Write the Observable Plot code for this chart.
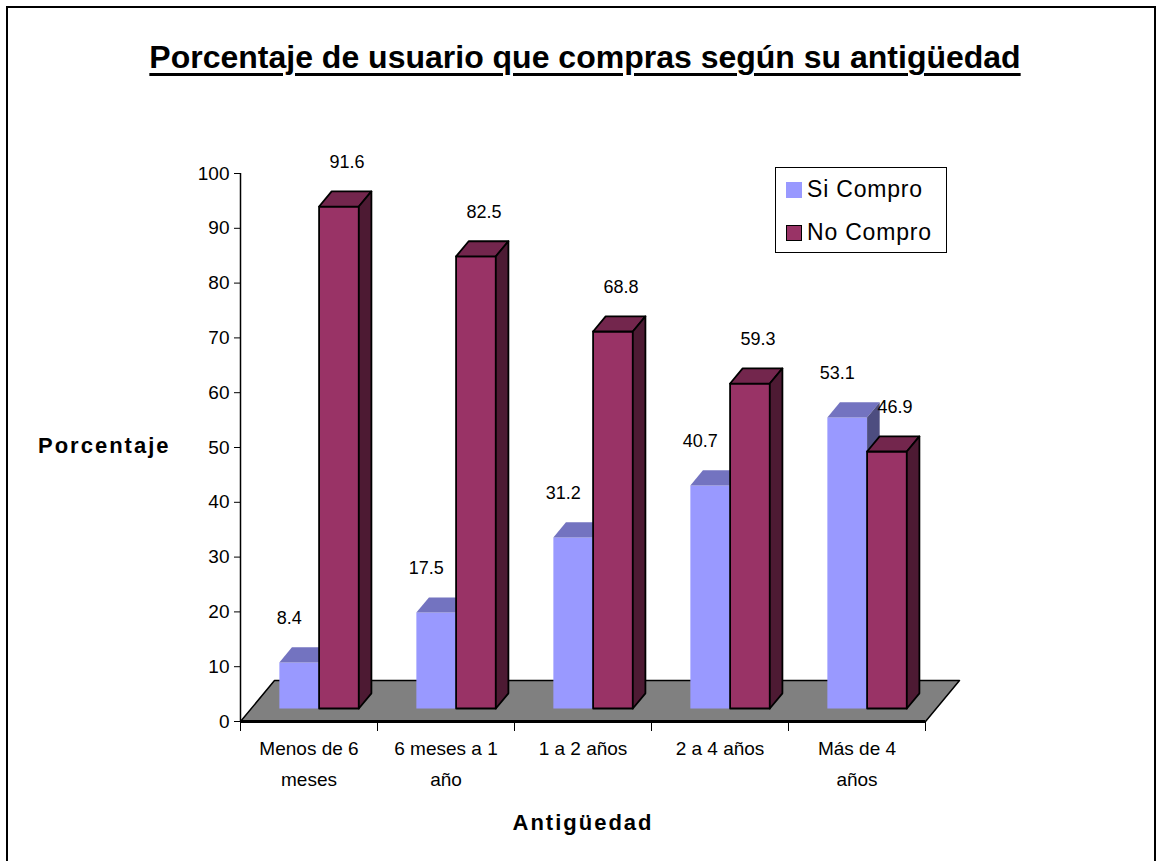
<!DOCTYPE html>
<html>
<head>
<meta charset="utf-8">
<script src="https://cdn.jsdelivr.net/npm/d3@7"></script>
<script src="https://cdn.jsdelivr.net/npm/@observablehq/plot@0.6"></script>
<style>
  html, body { margin: 0; padding: 0; background: #fff; }
  body { font-family: "Liberation Sans", Arial, sans-serif; color: #000; }
  #wrap { position: relative; width: 1158px; height: 861px; overflow: hidden; background: #fff; }
  #border { position: absolute; left: 6px; top: 6px; width: 1150px; height: 900px; border: 2px solid #000; box-sizing: border-box; }
  #chart { position: absolute; left: 0; top: 0; }
  #title { position: absolute; left: 0; width: 1170px; top: 41px; text-align: center; font-weight: bold; font-size: 32px; line-height: 32px;
           text-decoration: underline; text-decoration-thickness: 3px; text-underline-offset: 5px; }
  .axtitle { position: absolute; font-weight: bold; font-size: 22px; line-height: 22px; letter-spacing: 2px; white-space: nowrap; }
  #ytitle { left: 38px; top: 435px; }
  #xtitle { left: 0; width: 1166px; text-align: center; top: 812px; }
  #legend { position: absolute; left: 775px; top: 167px; width: 172px; height: 86px; border: 1.5px solid #000; box-sizing: border-box; background: #fff; }
  .item { position: absolute; left: 10px; font-size: 23px; line-height: 23px; letter-spacing: 0.8px; white-space: nowrap; }
  .sw { display: inline-block; width: 16px; height: 16px; margin-right: 5px; vertical-align: -1px; box-sizing: border-box; }
</style>
</head>
<body>
<div id="wrap">
  <div id="border"></div>
  <div id="chart"></div>
  <div id="title">Porcentaje de usuario que compras según su antigüedad</div>
  <div id="ytitle" class="axtitle">Porcentaje</div>
  <div id="xtitle" class="axtitle">Antigüedad</div>
  <div id="legend"></div>
</div>
<script>
// ---- data ----
const categories = ["Menos de 6 meses", "6 meses a 1 año", "1 a 2 años", "2 a 4 años", "Más de 4 años"];
const tickLabels = ["Menos de 6\nmeses", "6 meses a 1\naño", "1 a 2 años", "2 a 4 años", "Más de 4\naños"];
const series = ["Si Compro", "No Compro"];
const siCompro = [8.4, 17.5, 31.2, 40.7, 53.1];
const noCompro = [91.6, 82.5, 68.8, 59.3, 46.9];
const yTicks = [0, 10, 20, 30, 40, 50, 60, 70, 80, 90, 100];

// ---- layout / style ----
const W = 1158, H = 861, mL = 240, mR = 233, mT = 173, mB = 140;
const pxCat = (W - mL - mR) / categories.length;   // px per category
const pxVal = (H - mT - mB) / 100;                 // px per percent
const floorDepth = { x: 34 / pxCat, y: 41 / pxVal };
const f0 = 0.317, fb = 0.37;
const barOffset = 0.205, barW = 0.29;
const colors = {
  "Si Compro": { front: "#9999ff", top: "#7373c0", side: "#4d4d80", stroke: "none", labelDx: -10 },
  "No Compro": { front: "#993366", top: "#73264d", side: "#4d1a33", stroke: "#000000", labelDx: 8 }
};

const values = [siCompro, noCompro];
const polys = [];
const labels = [];
let id = 0;
categories.forEach((c, i) => {
  values.forEach((vals, s) => {
    const v = vals[i];
    const col = colors[series[s]];
    const x0 = i + barOffset + s * barW + f0 * floorDepth.x, x1 = x0 + barW;
    const b = f0 * floorDepth.y, t = b + v;
    const ddx = fb * floorDepth.x, ddy = fb * floorDepth.y;
    const add = (pts, fill) => {
      const k = id++;
      pts.concat([pts[0]]).forEach(([x, y]) => polys.push({ k, x, y, fill, stroke: col.stroke }));
    };
    add([[x0, b], [x1, b], [x1, t], [x0, t]], col.front);
    add([[x0, t], [x1, t], [x1 + ddx, t + ddy], [x0 + ddx, t + ddy]], col.top);
    add([[x1, b], [x1 + ddx, b + ddy], [x1 + ddx, t + ddy], [x1, t]], col.side);
    labels.push({ x: (x0 + x1) / 2, y: t + ddy, text: v.toFixed(1), dx: col.labelDx });
  });
});
const n = categories.length;
const floor = [[0, 0], [n, 0], [n + floorDepth.x, floorDepth.y], [floorDepth.x, floorDepth.y], [0, 0]].map(([x, y]) => ({ x, y }));

const chart = Plot.plot({
  width: W, height: H,
  marginLeft: mL, marginRight: mR, marginTop: mT, marginBottom: mB,
  style: { fontFamily: "'Liberation Sans', Arial, sans-serif", fontSize: "19px", background: "transparent", color: "#000" },
  x: { type: "linear", domain: [0, n], ticks: d3.range(0, n + 1), tickFormat: () => "", tickSize: 10, label: null },
  y: { domain: [0, 100], ticks: yTicks, tickSize: 6, tickPadding: 5, label: null },
  color: { type: "identity" },
  marks: [
    Plot.line(floor, { x: "x", y: "y", fill: "#808080", stroke: "#000", strokeWidth: 1.5 }),
    Plot.ruleY([0], { x1: 0, x2: n, strokeWidth: 3 }),
    Plot.ruleX([0], { y1: 0, y2: 100, strokeWidth: 1.5 }),
    Plot.line(polys, { x: "x", y: "y", z: "k", fill: "fill", stroke: "stroke", strokeWidth: 1.8, strokeLinejoin: "round" }),
    Plot.text(labels.filter(d => d.dx < 0), { x: "x", y: "y", text: "text", dy: -29, dx: colors["Si Compro"].labelDx, fontSize: 18 }),
    Plot.text(labels.filter(d => d.dx > 0), { x: "x", y: "y", text: "text", dy: -29, dx: colors["No Compro"].labelDx, fontSize: 18 }),
    Plot.text(tickLabels.map((t, i) => ({ x: i + 0.5, y: 0, t })), { x: "x", y: "y", text: "t", dy: 12, lineAnchor: "top", lineHeight: 1.63, fontSize: 19 })
  ]
});
document.getElementById("chart").appendChild(chart);

// legend
const legend = document.getElementById("legend");
series.forEach((s, i) => {
  const d = document.createElement("div");
  d.className = "item";
  d.style.top = (i === 0 ? 10 : 53) + "px";
  const sw = document.createElement("span");
  sw.className = "sw";
  sw.style.background = colors[s].front;
  if (colors[s].stroke !== "none") sw.style.border = "1.5px solid #000";
  d.appendChild(sw);
  d.appendChild(document.createTextNode(s));
  legend.appendChild(d);
});
</script>
</body>
</html>
